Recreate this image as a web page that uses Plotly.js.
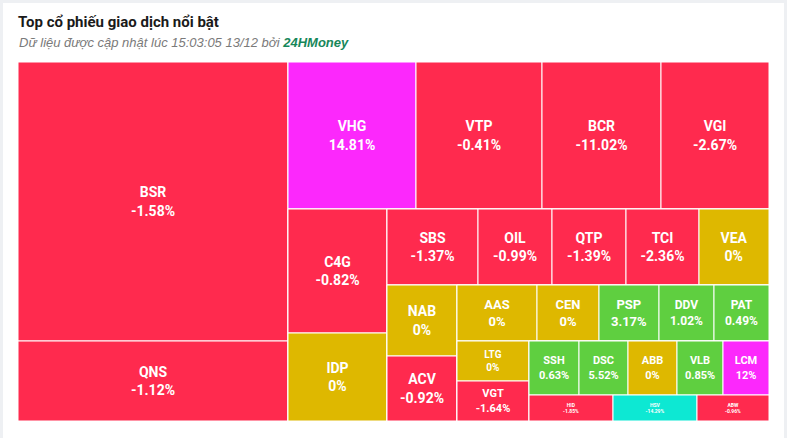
<!DOCTYPE html>
<html>
<head>
<meta charset="utf-8">
<script src="https://cdn.plot.ly/plotly-3.0.1.min.js"></script>
<style>
  html, body { margin: 0; padding: 0; background: #eef0f3; }
  #card { position: absolute; left: 3px; top: 3px; width: 781px; height: 435px; background: #ffffff; }
  #chart { position: absolute; left: 0; top: 0; width: 787px; height: 438px; }
</style>
</head>
<body>
<div id="card"></div>
<div id="chart"></div>
<script>
// ---- data ----
var tickers = ["BSR","QNS","VHG","VTP","BCR","VGI","C4G","IDP","SBS","OIL","QTP","TCI","VEA",
               "NAB","ACV","AAS","CEN","PSP","DDV","PAT","LTG","VGT","SSH","DSC","ABB","VLB","LCM",
               "HID","HSV","ABW"];
var tradeValues = [75330,21600,18816,18522,17493,15876,12276,8712,6916,5624,5624,5548,5320,
                   4970,4550,4480,3472,3360,3080,3080,2880,2880,2700,2646,2646,2484,2484,
                   2184,2184,1872];
var changes = [-1.58,-1.12,14.81,-0.41,-11.02,-2.67,-0.82,0,-1.37,-0.99,-1.39,-2.36,0,
               0,-0.92,0,0,3.17,1.02,0.49,0,-1.64,0.63,5.52,0,0.85,12,
               -1.85,-14.29,-0.96];
var labelSizes = [14,14,14,14,14,14,14,14,14,14,14,14,14,
                  14,14,13,13,13,12,12,10,11,11,11,11,11,11,
                  5,5,5];

// layout groups (alternating columns / rows of the original treemap)
var groups = [
  {id:"root", parent:"", kids:["g1","r1"]},
  {id:"g1", parent:"root", kids:["BSR","QNS"]},
  {id:"r1", parent:"root", kids:["top","r2"]},
  {id:"top", parent:"r1", kids:["VHG","VTP","BCR","VGI"]},
  {id:"r2", parent:"r1", kids:["c2","r3"]},
  {id:"c2", parent:"r2", kids:["C4G","IDP"]},
  {id:"r3", parent:"r2", kids:["row3","r4"]},
  {id:"row3", parent:"r3", kids:["SBS","OIL","QTP","TCI","VEA"]},
  {id:"r4", parent:"r3", kids:["c4","r5"]},
  {id:"c4", parent:"r4", kids:["NAB","ACV"]},
  {id:"r5", parent:"r4", kids:["row5","r6"]},
  {id:"row5", parent:"r5", kids:["AAS","CEN","PSP","DDV","PAT"]},
  {id:"r6", parent:"r5", kids:["c6","r7"]},
  {id:"c6", parent:"r6", kids:["LTG","VGT"]},
  {id:"r7", parent:"r6", kids:["row7a","row7b"]},
  {id:"row7a", parent:"r7", kids:["SSH","DSC","ABB","VLB","LCM"]},
  {id:"row7b", parent:"r7", kids:["HID","HSV","ABW"]}
];

function colorFor(c) {
  if (c > 6.9) return "#fc28fc";
  if (c < -14) return "#0de8d3";
  if (c > 0) return "#5fcf40";
  if (c < 0) return "#ff2a4e";
  return "#deb800";
}
function fmt(c) { return (Math.round(c * 100) / 100) + "%"; }

var parentOf = {};
groups.forEach(function (g) { g.kids.forEach(function (k) { parentOf[k] = g.id; }); });

var ids = [], labels = [], parents = [], values = [], texts = [], colors = [], sizes = [];
groups.forEach(function (g) {
  ids.push(g.id); labels.push(""); parents.push(g.parent); values.push(0);
  texts.push(""); colors.push("#ffffff"); sizes.push(10);
});
tickers.forEach(function (t, i) {
  ids.push(t); labels.push(t); parents.push(parentOf[t]); values.push(tradeValues[i]);
  texts.push(fmt(changes[i])); colors.push(colorFor(changes[i])); sizes.push(labelSizes[i]);
});

var trace = {
  type: "treemap",
  ids: ids, labels: labels, parents: parents, values: values, text: texts,
  branchvalues: "remainder",
  sort: false,
  tiling: { packing: "slice-dice", pad: 0 },
  marker: { colors: colors, line: { color: "#ffffff", width: 1 }, pad: { t: 0, l: 0, r: 0, b: 0 } },
  pathbar: { visible: false },
  texttemplate: "<b>%{label}</b><br><b>%{text}</b>",
  textposition: "middle center",
  textfont: { family: "Roboto, Arial, sans-serif", color: "#ffffff", size: sizes },
  hoverinfo: "none"
};

var layout = {
  width: 787, height: 438,
  margin: { l: 18, r: 18, t: 62, b: 17 },
  paper_bgcolor: "rgba(0,0,0,0)",
  plot_bgcolor: "rgba(0,0,0,0)",
  font: { family: "Roboto, Arial, sans-serif" },
  title: {
    text: "<b>Top cổ phiếu giao dịch nổi bật</b>",
    x: 18 / 787, xanchor: "left", xref: "container",
    y: 1 - 16 / 438, yanchor: "top", yref: "container",
    font: { family: "Roboto, Arial, sans-serif", size: 15, color: "#1a1a1a" }
  },
  annotations: [{
    text: "<i>Dữ liệu được cập nhật lúc 15:03:05 13/12 bởi <b><span style='color:#17875a'>24HMoney</span></b></i>",
    xref: "paper", yref: "paper", x: 0, y: (421 - 52) / 359,
    xanchor: "left", yanchor: "bottom", xshift: -1,
    showarrow: false, align: "left",
    font: { family: "'Liberation Sans', Arial, sans-serif", size: 13, color: "#7a7a7a", style: "italic" }
  }]
};

Plotly.newPlot("chart", [trace], layout, { displayModeBar: false, staticPlot: true });
</script>
</body>
</html>
